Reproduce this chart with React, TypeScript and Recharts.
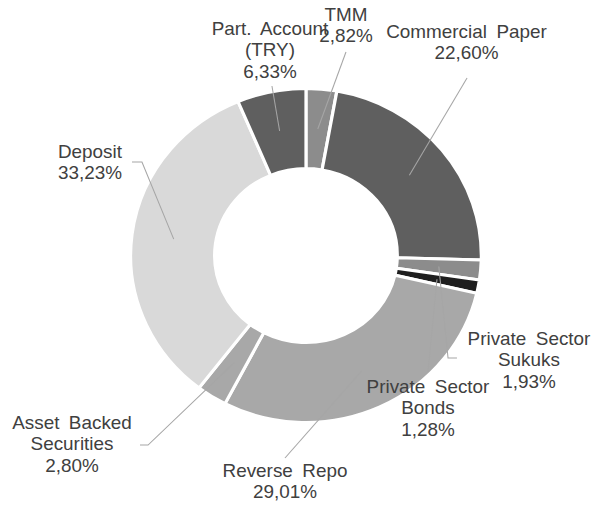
import React from 'react';
import { PieChart, Pie, Cell } from 'recharts';

const NAMES = [
  'TMM',
  'Commercial Paper',
  'Private Sector Sukuks',
  'Private Sector Bonds',
  'Reverse Repo',
  'Asset Backed Securities',
  'Deposit',
  'Part. Account (TRY)',
];
const LABEL_LINES = [
  ['TMM'],
  ['Commercial Paper'],
  ['Private Sector', 'Sukuks'],
  ['Private Sector', 'Bonds'],
  ['Reverse Repo'],
  ['Asset Backed', 'Securities'],
  ['Deposit'],
  ['Part. Account', '(TRY)'],
];
const SHARES = [2.82, 22.6, 1.93, 1.28, 29.01, 2.8, 33.23, 6.33];

const COLORS = ['#8c8c8c', '#5f5f5f', '#8c8c8c', '#1e1e1e', '#a8a8a8', '#a8a8a8', '#d9d9d9', '#5f5f5f'];

// label text anchor (centre x, first baseline) and leader line bends, in chart px
const LABEL_POS = [
  { x: 329.5, y: 21, bends: [[329.5, 52]] },
  { x: 444.3, y: 38, bends: [[444.8, 78]] },
  { x: 503.8, y: 345, bends: [[426.7, 358], [435.2, 358]] },
  { x: 407.6, y: 393, bends: [[407.6, 372]] },
  { x: 271.4, y: 477, bends: [[271.4, 458]] },
  { x: 68.6, y: 429, bends: [[141, 445], [133.3, 445]] },
  { x: 85.7, y: 158, bends: [[135.2, 162], [125.7, 162]] },
  { x: 257.1, y: 35, bends: [[259, 86]] },
];

const data = NAMES.map((name, i) => ({ name, value: SHARES[i] }));
const RADIAN = Math.PI / 180;
const fmt = (v: number) => v.toFixed(2).replace('.', ',') + '%';

const renderLabel = (props: any) => {
  const { cx, cy, midAngle, innerRadius, outerRadius, index, value } = props;
  const r = (innerRadius + outerRadius) / 2;
  const sx = cx + r * Math.cos(-midAngle * RADIAN);
  const sy = cy + r * Math.sin(-midAngle * RADIAN);
  const pos = LABEL_POS[index];
  const pts = [[sx, sy], ...pos.bends].map((p) => p.join(',')).join(' ');
  const lines = [...LABEL_LINES[index], fmt(value)];
  return (
    <g key={`lbl-${index}`}>
      <polyline points={pts} fill="none" stroke="#a6a6a6" strokeWidth={1} />
      <text
        x={pos.x}
        y={pos.y}
        textAnchor="middle"
        fill="#404040"
        fontSize={18}
        fontFamily="'Liberation Sans', Arial, sans-serif"
        style={{ wordSpacing: 4 }}
      >
        {lines.map((l, j) => (
          <tspan key={j} x={pos.x} y={pos.y + j * 21.5}>
            {l}
          </tspan>
        ))}
      </text>
    </g>
  );
};

export default function App() {
  return (
    <div
      style={{
        position: 'absolute',
        left: 0,
        top: 0,
        width: 567,
        height: 506,
        transform: 'scaleX(1.05)',
        transformOrigin: '0 0',
        background: '#fff',
      }}
    >
      <PieChart width={567} height={506} margin={{ top: 0, right: 0, bottom: 0, left: 0 }}>
        <Pie
          data={data}
          dataKey="value"
          cx={291.4}
          cy={255.5}
          innerRadius={87}
          outerRadius={167}
          startAngle={90}
          endAngle={-270}
          stroke="#ffffff"
          strokeWidth={3}
          label={renderLabel}
          labelLine={false}
          isAnimationActive={false}
        >
          {data.map((_, idx) => (
            <Cell key={idx} fill={COLORS[idx]} />
          ))}
        </Pie>
      </PieChart>
    </div>
  );
}
